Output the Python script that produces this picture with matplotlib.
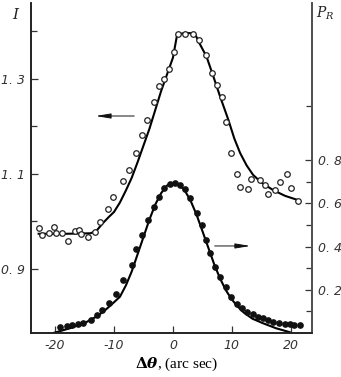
import matplotlib
matplotlib.use("Agg")
import matplotlib.pyplot as plt

plt.rcParams['mathtext.fontset'] = 'dejavuserif'

# open circles, intensity I (left axis)
i_pts_x = [-22.8, -22.3, -21.1, -20.2, -19.8, -18.9, -17.9, -16.6, -16.0, -15.6, -14.5,
           -13.3, -12.4, -11.1, -10.2, -8.5, -7.4, -6.3, -5.3, -4.4, -3.3, -2.3, -1.5,
           -0.6, 0.2, 0.9, 2.0, 3.4, 4.5, 5.6, 6.6, 7.4, 8.3, 9.0, 9.9, 10.8, 11.4,
           12.8, 13.2, 14.7, 15.6, 16.2, 17.3, 18.1, 19.3, 20.1, 21.2]
i_pts_y = [0.987, 0.972, 0.975, 0.989, 0.975, 0.976, 0.959, 0.979, 0.982, 0.974, 0.968,
           0.977, 0.998, 1.026, 1.051, 1.086, 1.108, 1.144, 1.181, 1.214, 1.252, 1.285, 1.299,
           1.322, 1.356, 1.395, 1.395, 1.395, 1.382, 1.351, 1.312, 1.287, 1.261, 1.210, 1.144,
           1.099, 1.073, 1.068, 1.089, 1.087, 1.077, 1.058, 1.066, 1.084, 1.099, 1.070, 1.044]

# theory curve for I
i_fit_x = [-22.8, -18, -14, -13, -12, -11, -10, -9, -8, -7, -6, -5, -4, -3, -2, -1, 0,
           0.7, 2, 3.7, 4.5, 5.7, 7, 8, 9.4, 10.4, 11.4, 12.5, 13.6, 15, 17, 19, 21.2]
i_fit_y = [0.974, 0.974, 0.975, 0.980, 0.995, 1.008, 1.020, 1.040, 1.065, 1.092, 1.125,
           1.160, 1.195, 1.235, 1.275, 1.310, 1.345, 1.393, 1.397, 1.396, 1.375, 1.347,
           1.300, 1.263, 1.214, 1.175, 1.144, 1.118, 1.098, 1.082, 1.066, 1.054, 1.045]

# filled circles, reflectivity P_R (right axis)
p_pts_x = [-19.2, -18.0, -17.2, -16.2, -15.2, -13.9, -12.9, -12.0, -10.8, -9.6, -8.4,
           -7.0, -6.2, -5.2, -4.2, -3.2, -2.3, -1.5, -0.5, 0.3, 1.2, 2.0, 2.9, 4.0, 4.9,
           5.6, 6.3, 7.1, 8.0, 9.0, 9.9, 10.9, 11.8, 12.5, 13.6, 14.5, 15.3, 16.2, 17.0,
           18.0, 19.0, 19.8, 20.5, 21.5]
p_pts_y = [0.029, 0.032, 0.036, 0.040, 0.048, 0.058, 0.083, 0.105, 0.137, 0.182, 0.245,
           0.315, 0.387, 0.454, 0.523, 0.585, 0.631, 0.670, 0.690, 0.693, 0.685, 0.665,
           0.624, 0.554, 0.500, 0.430, 0.369, 0.307, 0.261, 0.212, 0.166, 0.132, 0.117,
           0.099, 0.088, 0.075, 0.068, 0.060, 0.052, 0.045, 0.042, 0.040, 0.037, 0.037]

# theory curve for P_R
p_fit_x = [-20.3, -19, -17.5, -16, -14.6, -13, -11.8, -10.5, -9, -8, -7, -6, -5, -4, -3,
           -2, -1, 0, 1, 2, 3, 4, 5, 6, 7, 8, 9, 10, 11, 12, 13.5, 15.3, 17.5, 19.8]
p_fit_y = [0.0, 0.010, 0.022, 0.036, 0.052, 0.076, 0.099, 0.130, 0.168, 0.220, 0.285,
           0.365, 0.445, 0.525, 0.595, 0.648, 0.683, 0.695, 0.688, 0.660, 0.612, 0.548,
           0.472, 0.395, 0.318, 0.252, 0.197, 0.155, 0.122, 0.095, 0.066, 0.045, 0.022, 0.004]

x_ticks = [-20, -10, 0, 10, 20]
x_labels = ["-20", "-10", "0", "10", "20"]
i_ticks = [0.9, 1.1, 1.3]
i_labels = ["0. 9", "1. 1", "1. 3"]
i_minor = [1.0, 1.2, 1.4]
p_ticks = [0.2, 0.4, 0.6, 0.8]
p_labels = ["0. 2", "0. 4", "0. 6", "0. 8"]
p_minor = [0.1, 0.3, 0.5, 0.7, 1.05]

fig = plt.figure(figsize=(3.41, 3.77), dpi=100)
ax = fig.add_axes([31/341, 44/377, 281/341, 330/377])
ax2 = ax.twinx()

ax.plot(i_fit_x, i_fit_y, color='k', lw=1.5, zorder=2)
ax.plot(i_pts_x, i_pts_y, 'o', mfc='white', mec='#222222', mew=0.9, ms=4.0, zorder=3)
ax2.plot(p_fit_x, p_fit_y, color='k', lw=1.5, zorder=2)
ax2.plot(p_pts_x, p_pts_y, 'o', color='#111111', ms=3.8, zorder=3)

ax.set_xlim(-24.1, 23.6)
ax.set_ylim(0.765, 1.46)
ax2.set_ylim(0.0, 1.528)

tfont = dict(fontsize=9, fontstyle='italic', color='#333333')
ax.set_xticks(x_ticks)
ax.set_xticklabels(x_labels, **tfont)
ax.set_yticks(i_ticks)
ax.set_yticklabels(i_labels, **tfont)
ax.set_yticks(i_minor, minor=True)
ax2.set_yticks(p_ticks)
ax2.set_yticklabels(p_labels, **tfont)
ax2.set_yticks(p_minor, minor=True)

for a in (ax, ax2):
    a.tick_params(direction='in', length=5, width=0.9, color='#333333', pad=4)
    a.tick_params(which='minor', direction='in', length=4, width=0.9, color='#333333')
    a.spines['top'].set_visible(False)
    for s in ('left', 'right', 'bottom'):
        a.spines[s].set_linewidth(1.2)
        a.spines[s].set_color('#222222')
ax2.spines['right'].set_color('#555555')

# arrows pointing to the matching axis
ax.annotate("", xy=(-13.6, 1.222), xytext=(-6.1, 1.222),
            arrowprops=dict(arrowstyle='-|>,head_length=0.9,head_width=0.15',
                            color='#111111', lw=0.7))
ax2.annotate("", xy=(13.6, 0.403), xytext=(6.6, 0.403),
             arrowprops=dict(arrowstyle='-|>,head_length=0.9,head_width=0.15',
                             color='#111111', lw=0.7))

fig.text(15/341, 1 - 15/377, "I", fontsize=11, fontstyle='italic',
         family='DejaVu Serif', ha='center', va='center', color='#222222')
fig.text(325/341, 1 - 13/377, r"$P_R$", fontsize=10, ha='center', va='center',
         color='#222222')
fig.text(177/341, 1 - 364/377, r"$\boldsymbol{\Delta\theta}$, (arc sec)",
         fontsize=11, family='Liberation Serif', ha='center', va='center')

fig.savefig("out.png", dpi=100)
